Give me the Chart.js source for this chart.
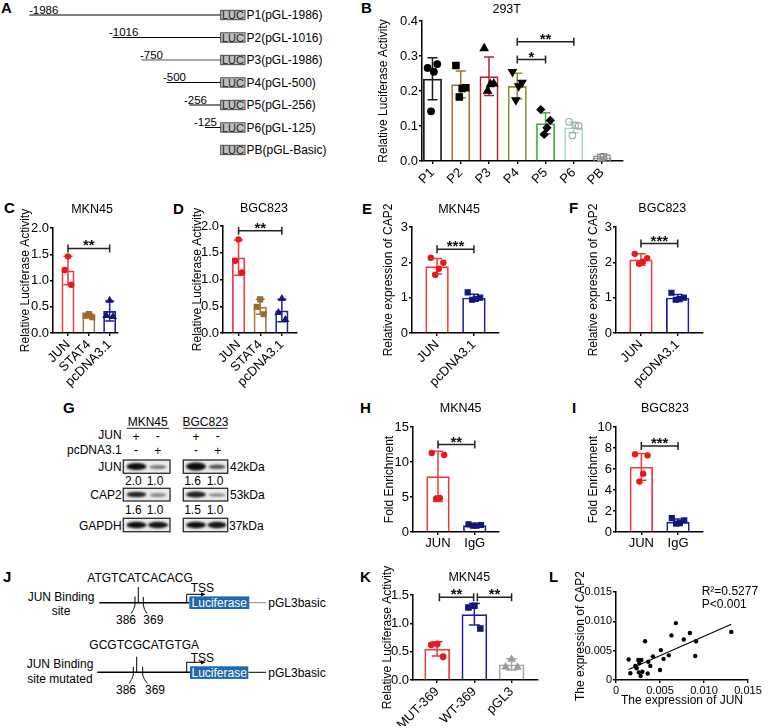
<!DOCTYPE html>
<html lang="en">
<head>
<meta charset="UTF-8">
<meta name="viewport" content="width=device-width, initial-scale=1.0">
<title>JUN / CAP2 figure</title>
<script src="https://cdn.jsdelivr.net/npm/chart.js"></script>
<style>
  html, body { margin: 0; padding: 0; background: #fff; }
  body { position: relative; width: 768px; height: 728px; overflow: hidden; }
  #art { position: absolute; left: 0; top: 0; }
  canvas { position: absolute; }
  #art text { font-family: 'Liberation Sans', Arial, sans-serif; font-size: 12px; fill: #000; }
  #art text.pl { font-size: 15px; font-weight: bold; }
  #art text.sm { font-size: 11px; fill: #222; }
  #art text.pos { font-size: 11.5px; }
  #art text.wt { fill: #fff; }
</style>
</head>
<body>

<svg id="art" width="768" height="728" xmlns="http://www.w3.org/2000/svg">
  <defs>
    <filter id="bl" x="-40%" y="-100%" width="180%" height="300%"><feGaussianBlur stdDeviation="1.1"/></filter>
  </defs>

  <!-- panel letters -->
  <text class="pl" x="1" y="13">A</text>
  <text class="pl" x="361" y="13">B</text>
  <text class="pl" x="4" y="213">C</text>
  <text class="pl" x="173" y="214">D</text>
  <text class="pl" x="362" y="214">E</text>
  <text class="pl" x="569" y="213">F</text>
  <text class="pl" x="63" y="413">G</text>
  <text class="pl" x="360" y="413">H</text>
  <text class="pl" x="572" y="413">I</text>
  <text class="pl" x="3" y="582">J</text>
  <text class="pl" x="360" y="582">K</text>
  <text class="pl" x="549" y="582">L</text>

  <!-- A: promoter constructs -->
  <g stroke="#000" stroke-width="1">
    <line x1="29.3" y1="15" x2="221" y2="15"/>
    <line x1="112.7" y1="37.5" x2="221" y2="37.5"/>
    <line x1="141.7" y1="60" x2="221" y2="60" stroke="#8a8a8a" stroke-width="1.6"/>
    <line x1="166.7" y1="82.5" x2="221" y2="82.5"/>
    <line x1="189.3" y1="105" x2="221" y2="105"/>
    <line x1="205" y1="127.5" x2="221" y2="127.5"/>
  </g>
  <g fill="#bebebe" stroke="#3a3a3a" stroke-width="0.9">
    <rect x="220.7" y="10.3" width="24.3" height="9.4"/>
    <rect x="220.7" y="32.8" width="24.3" height="9.4"/>
    <rect x="220.7" y="55.3" width="24.3" height="9.4"/>
    <rect x="220.7" y="77.8" width="24.3" height="9.4"/>
    <rect x="220.7" y="100.3" width="24.3" height="9.4"/>
    <rect x="220.7" y="122.8" width="24.3" height="9.4"/>
    <rect x="220.7" y="145.3" width="24.3" height="9.4"/>
  </g>
  <g text-anchor="middle">
    <text class="sm" x="232.9" y="19">LUC</text>
    <text class="sm" x="232.9" y="41.5">LUC</text>
    <text class="sm" x="232.9" y="64">LUC</text>
    <text class="sm" x="232.9" y="86.5">LUC</text>
    <text class="sm" x="232.9" y="109">LUC</text>
    <text class="sm" x="232.9" y="131.5">LUC</text>
    <text class="sm" x="232.9" y="154">LUC</text>
  </g>
  <text x="246.5" y="19.3">P1(pGL-1986)</text>
  <text x="246.5" y="41.8">P2(pGL-1016)</text>
  <text x="246.5" y="64.3">P3(pGL-1986)</text>
  <text x="246.5" y="86.8">P4(pGL-500)</text>
  <text x="246.5" y="109.3">P5(pGL-256)</text>
  <text x="246.5" y="131.8">P6(pGL-125)</text>
  <text x="246.5" y="154.3">PB(pGL-Basic)</text>
  <text class="pos" x="29" y="13.8">-1986</text>
  <text class="pos" x="109" y="36.3">-1016</text>
  <text class="pos" x="140" y="58.8">-750</text>
  <text class="pos" x="163" y="81.3">-500</text>
  <text class="pos" x="184" y="103.8">-256</text>
  <text class="pos" x="194" y="126.3">-125</text>

  <!-- G: western blot -->
  <text x="147.7" y="426" text-anchor="middle">MKN45</text>
  <text x="205.5" y="426" text-anchor="middle">BGC823</text>
  <g stroke="#000" stroke-width="0.9">
    <line x1="126.7" y1="428.3" x2="169.3" y2="428.3"/>
    <line x1="183.3" y1="428.3" x2="227.7" y2="428.3"/>
  </g>
  <text x="121.7" y="438.5" text-anchor="end">JUN</text>
  <text x="121.7" y="454.3" text-anchor="end">pcDNA3.1</text>
  <g text-anchor="middle">
    <text x="136" y="440.5">+</text><text x="157.7" y="440">-</text>
    <text x="196" y="440.5">+</text><text x="217.7" y="440">-</text>
    <text x="136" y="454">-</text><text x="157.7" y="454.5">+</text>
    <text x="196" y="454">-</text><text x="217.7" y="454.5">+</text>
  </g>
  <g fill="#ebebeb" stroke="#2a2a2a" stroke-width="1.3">
    <rect x="123.3" y="460" width="46.7" height="13.3"/>
    <rect x="183.3" y="460" width="44.4" height="13.3"/>
    <rect x="123.3" y="488.3" width="46.7" height="12.7"/>
    <rect x="183.3" y="488.3" width="44.4" height="12.7"/>
    <rect x="123.3" y="518.3" width="46.7" height="13.4"/>
    <rect x="183.3" y="518.3" width="44.4" height="13.4"/>
  </g>
  <g filter="url(#bl)">
    <ellipse cx="136.5" cy="466.5" rx="10" ry="3.6" fill="#111"/>
    <ellipse cx="158" cy="467" rx="8.5" ry="2" fill="#777"/>
    <ellipse cx="196" cy="466.5" rx="10" ry="4" fill="#0a0a0a"/>
    <ellipse cx="217" cy="466.8" rx="8.5" ry="2.3" fill="#555"/>
    <ellipse cx="136.5" cy="494.5" rx="10" ry="2.8" fill="#222"/>
    <ellipse cx="158" cy="495" rx="8.5" ry="2" fill="#888"/>
    <ellipse cx="196" cy="494.5" rx="10" ry="3" fill="#1a1a1a"/>
    <ellipse cx="217" cy="495" rx="8.5" ry="1.8" fill="#888"/>
    <ellipse cx="136.5" cy="525" rx="10" ry="3.3" fill="#111"/>
    <ellipse cx="158" cy="525" rx="10" ry="3.3" fill="#151515"/>
    <ellipse cx="196" cy="525" rx="10" ry="3.3" fill="#111"/>
    <ellipse cx="217" cy="525" rx="9.5" ry="3.3" fill="#151515"/>
  </g>
  <text x="121.7" y="470.5" text-anchor="end">JUN</text>
  <text x="121.7" y="499" text-anchor="end">CAP2</text>
  <text x="121.7" y="529.5" text-anchor="end">GAPDH</text>
  <text x="230" y="471">42kDa</text>
  <text x="230" y="499">53kDa</text>
  <text x="229" y="529.5">37kDa</text>
  <g text-anchor="middle">
    <text x="133.3" y="485.2">2.0</text><text x="155" y="485.2">1.0</text>
    <text x="192.5" y="485.2">1.6</text><text x="215" y="485.2">1.0</text>
    <text x="133.3" y="514.4">1.6</text><text x="155" y="514.4">1.0</text>
    <text x="192.5" y="514.4">1.5</text><text x="215" y="514.4">1.0</text>
  </g>

  <!-- J: reporter constructs -->
  <text x="87.3" y="581.5">ATGTCATCACACG</text>
  <text x="61" y="600.9" text-anchor="middle">JUN Binding</text>
  <text x="61" y="614.9" text-anchor="middle">site</text>
  <g stroke="#000" fill="none">
    <line x1="99.3" y1="602.7" x2="189.3" y2="602.7" stroke-width="1.6"/>
    <line x1="249.3" y1="602.7" x2="266" y2="602.7" stroke="#888" stroke-width="1"/>
    <path d="M186.7 602.7 V594.3 H202" stroke-width="1"/>
    <line x1="138.3" y1="587" x2="138.3" y2="602.7" stroke-width="1"/>
    <line x1="135" y1="596.5" x2="135" y2="605" stroke-width="1"/>
    <line x1="143.3" y1="597" x2="143.3" y2="605" stroke-width="1"/>
    <path d="M135 605 Q134 610 131 613.5" stroke-width="0.9"/>
    <path d="M143.3 605 Q144 610 147 613.5" stroke-width="0.9"/>
  </g>
  <polygon points="205.5,594.3 201,592.2 201,596.4" fill="#000"/>
  <text x="190.7" y="592">TSS</text>
  <rect x="189.3" y="596.4" width="60" height="12.6" fill="#2068b0"/>
  <text class="wt" x="219.3" y="607" text-anchor="middle">Luciferase</text>
  <text x="268.3" y="607">pGL3basic</text>
  <text x="126" y="624.3" text-anchor="middle">386</text>
  <text x="153.3" y="624.3" text-anchor="middle">369</text>

  <text x="89.3" y="649.2">GCGTCGCATGTGA</text>
  <text x="60" y="667.5" text-anchor="middle">JUN Binding</text>
  <text x="60" y="682.5" text-anchor="middle">site mutated</text>
  <g stroke="#000" fill="none">
    <line x1="97.3" y1="672.3" x2="190" y2="672.3" stroke-width="1.6"/>
    <line x1="248.3" y1="672.3" x2="266" y2="672.3" stroke-width="1"/>
    <path d="M186.7 672.3 V662.3 H202" stroke-width="1"/>
    <line x1="136.7" y1="656.7" x2="136.7" y2="672.3" stroke-width="1"/>
    <line x1="133.3" y1="667" x2="133.3" y2="675" stroke-width="1"/>
    <line x1="142.7" y1="667" x2="142.7" y2="675" stroke-width="1"/>
    <path d="M133.3 675 Q132 680 129 683.5" stroke-width="0.9"/>
    <path d="M142.7 675 Q144 680 147.5 683.5" stroke-width="0.9"/>
  </g>
  <polygon points="205.5,662.3 201,660.2 201,664.4" fill="#000"/>
  <text x="190.7" y="661.5">TSS</text>
  <rect x="190" y="666.3" width="58.3" height="12.6" fill="#2068b0"/>
  <text class="wt" x="219.2" y="677" text-anchor="middle">Luciferase</text>
  <text x="268.3" y="676.5">pGL3basic</text>
  <text x="126" y="694.3" text-anchor="middle">386</text>
  <text x="155" y="694.3" text-anchor="middle">369</text>
</svg>

<canvas id="chB"></canvas>
<canvas id="chC"></canvas>
<canvas id="chD"></canvas>
<canvas id="chE"></canvas>
<canvas id="chF"></canvas>
<canvas id="chH"></canvas>
<canvas id="chI"></canvas>
<canvas id="chK"></canvas>
<canvas id="chL"></canvas>

<script>
const FONT = "'Liberation Sans', Arial, sans-serif";
Chart.defaults.font.family = FONT;
Chart.defaults.color = '#000';

// ---------- data ----------
// B: 293T, promoter deletions
const bLabels = ['P1', 'P2', 'P3', 'P4', 'P5', 'P6', 'PB'];
const bMeans = [0.235, 0.219, 0.242, 0.214, 0.108, 0.096, 0.009];
const bSD = [0.060, 0.038, 0.055, 0.037, 0.030, 0.015, 0.003];
const bPoints = [
  [0.266, 0.277, 0.255, 0.142],
  [0.273, 0.209, 0.207, 0.183],
  [0.322, 0.221, 0.219, 0.200],
  [0.255, 0.224, 0.214, 0.174],
  [0.147, 0.116, 0.095, 0.076],
  [0.112, 0.100, 0.102, 0.073],
  [0.004, 0.008, 0.012, 0.010]
];
const bTicks = ['0.0', '0.1', '0.2', '0.3', '0.4'];
const bSig = [[3, 5, 0.341, '**'], [3, 4, 0.290, '*']];

// C, D: luciferase in MKN45 / BGC823
const cdLabels = ['JUN', 'STAT4', 'pcDNA3.1'];
const cMeans = [1.19, 0.33, 0.42];
const cSD = [0.27, 0.035, 0.19];
const cPoints = [[1.46, 1.20, 0.92], [0.36, 0.33, 0.30], [0.62, 0.33, 0.31]];
const dMeans = [1.41, 0.49, 0.42];
const dSD = [0.33, 0.14, 0.21];
const dPoints = [[1.75, 1.35, 1.13], [0.63, 0.49, 0.35], [0.64, 0.38, 0.25]];
const cdTicks = ['0.0', '0.5', '1.0', '1.5', '2.0'];
const cSig = [[0, 2, 1.61, '**']];
const dSig = [[0, 2, 1.91, '**']];

// E, F: CAP2 expression
const efLabels = ['JUN', 'pcDNA3.1'];
const eMeans = [1.89, 1.00];
const eSD = [0.22, 0.10];
const ePoints = [[2.13, 1.99, 1.82, 1.65], [1.15, 1.00, 0.97, 0.94]];
const fMeans = [2.08, 1.00];
const fSD = [0.16, 0.09];
const fPoints = [[2.24, 2.12, 2.02, 1.96], [1.14, 1.00, 0.96, 0.94]];
const efTicks = ['0', '1', '2', '3'];
const eSig = [[0, 1, 2.37, '***']];
const fSig = [[0, 1, 2.53, '***']];

// H, I: ChIP fold enrichment
const hiLabels = ['JUN', 'IgG'];
const hMeans = [7.95, 0.97];
const hSD = [3.6, 0.10];
const hPoints = [[11.3, 11.0, 4.85, 4.8], [1.1, 1.0, 0.9, 0.9]];
const hTicks = ['0', '5', '10', '15'];
const hSig = [[0, 1, 12.5, '**']];
const iMeans = [6.2, 0.98];
const iSD = [1.27, 0.25];
const iPoints = [[7.4, 7.3, 5.55, 4.8], [1.32, 1.1, 0.85, 0.8]];
const iTicks = ['0', '2', '4', '6', '8', '10'];
const iSig = [[0, 1, 8.2, '***']];

// K: binding-site mutation
const kLabels = ['MUT-369', 'WT-369', 'pGL3'];
const kMeans = [0.55, 1.16, 0.275];
const kSD = [0.125, 0.19, 0.10];
const kPoints = [[0.635, 0.62, 0.41], [1.31, 1.28, 0.91], [0.365, 0.23, 0.225]];
const kTicks = ['0.0', '0.5', '1.0', '1.5'];
const kSig = [[0.06, 0.98, 1.46, '**'], [1.08, 2, 1.46, '**']];

// L: JUN vs CAP2 correlation
const lJun = [0.00144, 0.00163, 0.0022, 0.00235, 0.00254, 0.00265, 0.00288, 0.0026, 0.0028, 0.0030,
  0.0033, 0.0036, 0.00367, 0.0039, 0.0042, 0.0050, 0.0051, 0.0054, 0.0060, 0.0063,
  0.0068, 0.0077, 0.0084, 0.0091, 0.0090, 0.0131];
const lCap2 = [0.0035, 0.00114, 0.0024, 0.0020, 0.0034, 0.00285, 0.0034, 0.0013, 0.0007, 0.0014,
  0.0066, 0.0011, 0.0031, 0.0024, 0.0040, 0.0017, 0.0051, 0.0036, 0.0042, 0.0076,
  0.0097, 0.0069, 0.0080, 0.0066, 0.0041, 0.0082];
const lFitJun = [0.00144, 0.0131];
const lFitCap2 = [0.0018, 0.0095];
const lTicks = ['0', '0.005', '0.010', '0.015'];

// ---------- colours ----------
const RED = '#f23a3c', RED_PT = '#e8191d';
const BLUE = '#1d1f9b', BLUE_PT = '#15157e';
const BROWN = '#a8743a', BROWN_PT = '#9a6a30';
const GRAY = '#a4a4a4', GRAY_PT = '#9a9a9a';

const SHAPE_K = {circle: 1, rect: 1.35, triangle: 1.35, rectRot: 1.15};
const JIT = {3: [0, -0.16, 0.16], 4: [-0.17, 0.17, 0.05, -0.05]};

const gridOpts = {offset: false, drawOnChartArea: false, drawTicks: true, tickLength: 3,
  tickColor: '#000', tickWidth: 1.4, color: '#000', lineWidth: 1.4};
const borderOpts = {display: true, color: '#000', width: 1.5};

function place(id, g) {
  const cv = document.getElementById(id);
  cv.width = g.cw; cv.height = g.ch;
  cv.style.left = g.cx + 'px'; cv.style.top = g.cy + 'px';
  return cv;
}

function barChart(id, g, d) {
  const cv = place(id, g);
  const yVals = d.yTicks.map(Number);
  const datasets = [{
    type: 'bar',
    data: d.means.map((v, i) => ({x: i, y: v})),
    backgroundColor: 'rgba(255,255,255,0)',
    borderColor: d.colors,
    borderWidth: 1.7,
    barPercentage: 1,
    categoryPercentage: d.barFrac,
    order: 3
  }];
  d.points.forEach((vals, i) => {
    const jit = JIT[vals.length];
    const shape = d.shapes[i];
    const r = d.r * SHAPE_K[shape];
    datasets.push({
      type: 'scatter',
      data: vals.map((v, k) => ({x: i + jit[k], y: v})),
      pointStyle: shape,
      pointRotation: (d.rotations || [])[i] || 0,
      pointRadius: r,
      pointHoverRadius: r,
      pointBackgroundColor: (d.hollow || [])[i] ? 'rgba(255,255,255,0)' : d.ptColors[i],
      pointBorderColor: d.ptColors[i],
      pointBorderWidth: 1.2,
      order: 1
    });
  });

  // error bars (mean ± SD), significance brackets and the panel title
  const deco = {
    id: 'deco',
    afterDatasetDraw(chart, args) {
      if (args.index !== 0) return;
      const ctx = chart.ctx, xs = chart.scales.x, ys = chart.scales.y;
      ctx.save();
      ctx.lineWidth = 1.5;
      d.means.forEach((m, i) => {
        const px = xs.getPixelForValue(i);
        const top = ys.getPixelForValue(m + d.sd[i]);
        const bot = ys.getPixelForValue(Math.max(0, m - d.sd[i]));
        ctx.strokeStyle = d.colors[i];
        ctx.beginPath();
        ctx.moveTo(px, bot); ctx.lineTo(px, top);
        ctx.moveTo(px - d.cap, top); ctx.lineTo(px + d.cap, top);
        ctx.moveTo(px - d.cap, bot); ctx.lineTo(px + d.cap, bot);
        ctx.stroke();
      });
      ctx.restore();
    },
    afterDraw(chart) {
      const ctx = chart.ctx, xs = chart.scales.x, ys = chart.scales.y;
      ctx.save();
      ctx.strokeStyle = '#222';
      ctx.fillStyle = '#111';
      ctx.lineWidth = 1.5;
      d.sig.forEach(([a, b, v, t]) => {
        const x1 = xs.getPixelForValue(a), x2 = xs.getPixelForValue(b);
        const yy = ys.getPixelForValue(v);
        ctx.beginPath();
        ctx.moveTo(x1, yy); ctx.lineTo(x2, yy);
        ctx.moveTo(x1, yy - 4); ctx.lineTo(x1, yy + 4);
        ctx.moveTo(x2, yy - 4); ctx.lineTo(x2, yy + 4);
        ctx.stroke();
        ctx.font = 'bold 15px ' + FONT;
        ctx.textAlign = 'center';
        ctx.textBaseline = 'alphabetic';
        ctx.fillText(t, (x1 + x2) / 2, yy + 2);
      });
      ctx.fillStyle = '#000';
      ctx.font = '12.5px ' + FONT;
      ctx.textAlign = 'center';
      ctx.textBaseline = 'middle';
      ctx.fillText(d.title, g.tx - g.cx, g.ty - g.cy);
      ctx.restore();
    }
  };

  return new Chart(cv, {
    type: 'bar',
    data: {datasets},
    options: {
      responsive: false,
      animation: false,
      layout: {padding: {top: g.pt, right: g.pr, left: 0, bottom: 0}},
      plugins: {legend: {display: false}, tooltip: {enabled: false}},
      scales: {
        x: {
          type: 'linear', min: d.xMin, max: d.xMax, offset: false,
          afterBuildTicks: s => { s.ticks = d.labels.map((_, i) => ({value: i})); },
          afterFit: s => { s.height = g.xh; },
          grid: gridOpts, border: borderOpts,
          ticks: {callback: v => d.labels[Math.round(v)], autoSkip: false,
            minRotation: d.rot, maxRotation: d.rot, padding: 1, color: '#000', font: {size: 13}}
        },
        y: {
          type: 'linear', min: 0, max: yVals[yVals.length - 1],
          afterBuildTicks: s => { s.ticks = yVals.map(v => ({value: v})); },
          afterFit: s => { s.width = g.yw; },
          grid: gridOpts, border: borderOpts,
          ticks: {callback: (v, i) => d.yTicks[i], padding: 1, color: '#000', font: {size: 13}},
          title: {display: true, text: d.yTitle, padding: 0, color: '#000', font: {size: 12}}
        }
      }
    },
    plugins: [deco]
  });
}

barChart('chB', {cx: 376, cy: 0, cw: 253, ch: 186, yw: 46, xh: 25, pt: 21, pr: 6, tx: 506.7, ty: 10}, {
  labels: bLabels, means: bMeans, sd: bSD, points: bPoints, yTicks: bTicks, sig: bSig,
  title: '293T', yTitle: 'Relative Luciferase Activity',
  colors: ['#1a1a1a', '#a8702e', '#b81f30', '#8e8c33', '#45ad45', '#a2d9c6', '#9a9a9a'],
  ptColors: ['#000', '#000', '#000', '#000', '#000', '#a8a8a8', '#8c8c8c'],
  hollow: [false, false, false, false, false, true, true],
  shapes: ['circle', 'rect', 'triangle', 'triangle', 'rectRot', 'circle', 'rect'],
  rotations: [0, 0, 0, 180, 0, 0, 0],
  r: 3.3, cap: 5, barFrac: 0.67, xMin: -0.37, xMax: 6.74, rot: 45
});

barChart('chC', {cx: 18, cy: 198, cw: 106, ch: 191, yw: 35, xh: 56, pt: 30, pr: 6, tx: 92, ty: 210}, {
  labels: cdLabels, means: cMeans, sd: cSD, points: cPoints, yTicks: cdTicks, sig: cSig,
  title: 'MKN45', yTitle: 'Relative Luciferase Activity',
  colors: [RED, BROWN, BLUE], ptColors: [RED_PT, BROWN_PT, BLUE_PT],
  shapes: ['circle', 'rect', 'triangle'],
  r: 2.6, cap: 4.5, barFrac: 0.62, xMin: -0.72, xMax: 2.4, rot: 45
});

barChart('chD', {cx: 190, cy: 196, cw: 113, ch: 193, yw: 33, xh: 56, pt: 30, pr: 6, tx: 264, ty: 209}, {
  labels: cdLabels, means: dMeans, sd: dSD, points: dPoints, yTicks: cdTicks, sig: dSig,
  title: 'BGC823', yTitle: 'Relative Luciferase Activity',
  colors: [RED, BROWN, BLUE], ptColors: [RED_PT, BROWN_PT, BLUE_PT],
  shapes: ['circle', 'rect', 'triangle'],
  r: 2.6, cap: 4.5, barFrac: 0.61, xMin: -0.72, xMax: 2.7, rot: 45
});

barChart('chE', {cx: 381, cy: 197, cw: 124, ch: 192, yw: 31, xh: 56, pt: 30, pr: 6, tx: 459, ty: 209.3}, {
  labels: efLabels, means: eMeans, sd: eSD, points: ePoints, yTicks: efTicks, sig: eSig,
  title: 'MKN45', yTitle: 'Relative expression of CAP2',
  colors: [RED, BLUE], ptColors: [RED_PT, BLUE_PT], shapes: ['circle', 'rect'],
  r: 2.6, cap: 5, barFrac: 0.635, xMin: -0.68, xMax: 1.68, rot: 45
});

barChart('chF', {cx: 586, cy: 197, cw: 123, ch: 192, yw: 30, xh: 56, pt: 30, pr: 6, tx: 662.3, ty: 209}, {
  labels: efLabels, means: fMeans, sd: fSD, points: fPoints, yTicks: efTicks, sig: fSig,
  title: 'BGC823', yTitle: 'Relative expression of CAP2',
  colors: [RED, BLUE], ptColors: [RED_PT, BLUE_PT], shapes: ['circle', 'rect'],
  r: 2.6, cap: 5, barFrac: 0.635, xMin: -0.68, xMax: 1.69, rot: 45
});

barChart('chH', {cx: 382, cy: 397, cw: 123, ch: 155, yw: 31, xh: 20, pt: 30, pr: 6, tx: 460.7, ty: 408.3}, {
  labels: hiLabels, means: hMeans, sd: hSD, points: hPoints, yTicks: hTicks, sig: hSig,
  title: 'MKN45', yTitle: 'Fold Enrichment',
  colors: [RED, BLUE], ptColors: [RED_PT, BLUE_PT], shapes: ['circle', 'rect'],
  r: 2.6, cap: 5, barFrac: 0.635, xMin: -0.68, xMax: 1.66, rot: 0
});

barChart('chI', {cx: 586, cy: 397, cw: 123, ch: 155, yw: 30, xh: 20, pt: 30, pr: 6, tx: 665, ty: 408.3}, {
  labels: hiLabels, means: iMeans, sd: iSD, points: iPoints, yTicks: iTicks, sig: iSig,
  title: 'BGC823', yTitle: 'Fold Enrichment',
  colors: [RED, BLUE], ptColors: [RED_PT, BLUE_PT], shapes: ['circle', 'rect'],
  r: 2.6, cap: 5, barFrac: 0.635, xMin: -0.69, xMax: 1.68, rot: 0
});

barChart('chK', {cx: 380, cy: 565, cw: 164, ch: 161, yw: 33, xh: 46, pt: 30, pr: 6, tx: 469.3, ty: 577.7}, {
  labels: kLabels, means: kMeans, sd: kSD, points: kPoints, yTicks: kTicks, sig: kSig,
  title: 'MKN45', yTitle: 'Relative Luciferase Activity',
  colors: [RED, BLUE, GRAY], ptColors: [RED_PT, BLUE_PT, GRAY_PT],
  shapes: ['circle', 'rect', 'triangle'],
  r: 2.8, cap: 5.5, barFrac: 0.69, xMin: -0.65, xMax: 2.71, rot: 45
});

// L: scatter with fitted line
(function () {
  const g = {cx: 573, cy: 572, cw: 191, ch: 136, yw: 43, xh: 28, pt: 20, pr: 16};
  const cv = place('chL', g);
  const tv = lTicks.map(Number);
  const axis = (title) => ({
    type: 'linear', min: 0, max: tv[tv.length - 1],
    afterBuildTicks: s => { s.ticks = tv.map(v => ({value: v})); },
    grid: gridOpts, border: borderOpts,
    ticks: {callback: (v, i) => lTicks[i], padding: 1, color: '#000', font: {size: 11}},
    title: {display: true, text: title, padding: 0, color: '#000', font: {size: 12}}
  });
  const x = axis('The expression of JUN');
  x.afterFit = s => { s.height = g.xh; };
  const y = axis('The expression of CAP2');
  y.afterFit = s => { s.width = g.yw; };

  new Chart(cv, {
    type: 'scatter',
    data: {datasets: [
      {data: lJun.map((v, i) => ({x: v, y: lCap2[i]})), pointRadius: 2.2, pointHoverRadius: 2.2,
        pointBackgroundColor: '#000', pointBorderColor: '#000', pointBorderWidth: 0, order: 1},
      {type: 'line', data: lFitJun.map((v, i) => ({x: v, y: lFitCap2[i]})),
        borderColor: '#000', borderWidth: 1.1, pointRadius: 0, fill: false, order: 2}
    ]},
    options: {
      responsive: false,
      animation: false,
      layout: {padding: {top: g.pt, right: g.pr, left: 0, bottom: 0}},
      plugins: {legend: {display: false}, tooltip: {enabled: false}},
      scales: {x, y}
    },
    plugins: [{
      id: 'stats',
      afterDraw(chart) {
        const ctx = chart.ctx;
        ctx.save();
        ctx.font = '12px ' + FONT;
        ctx.fillStyle = '#000';
        ctx.textAlign = 'left';
        ctx.textBaseline = 'middle';
        ctx.fillText('R\u00b2=0.5277', 701.7 - g.cx, 591.7 - g.cy);
        ctx.fillText('P<0.001', 701.7 - g.cx, 604.3 - g.cy);
        ctx.restore();
      }
    }]
  });
})();
</script>
</body>
</html>
